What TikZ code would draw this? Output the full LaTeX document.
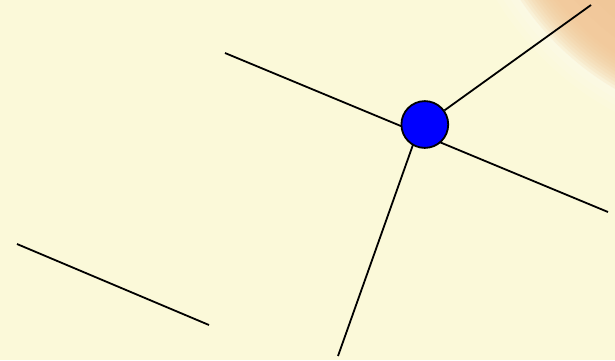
\documentclass[tikz,border=0pt]{standalone}
\definecolor{bg}{RGB}{251,249,217}
\definecolor{cornerc}{RGB}{242,196,146}
\tikzset{
  wire/.style={line width=1.8pt, black},
  hub/.style={circle, draw=black, line width=1.8pt, fill=blue, minimum size=46.8pt, inner sep=0pt}
}
\begin{document}
\begin{tikzpicture}[x=1pt,y=-1pt]
  \fill[bg] (0,0) rectangle (615,360);
  \begin{scope}
    \clip (0,0) rectangle (615,360);
    \foreach \r in {308,302,...,290} {\fill[white, fill opacity=0.1] (760,-160) circle (\r);}
    \foreach \r in {288,285,...,258} {\fill[cornerc, fill opacity=0.15] (760,-160) circle (\r);}
    \foreach \r in {245,230,...,200} {\fill[cornerc!85!brown, fill opacity=0.07] (760,-160) circle (\r);}
  \end{scope}
  \useasboundingbox (0,0) rectangle (615,360);
  % free ends
  \coordinate (a1) at (225,53);
  \coordinate (a2) at (608,212);
  \coordinate (up) at (591,5);
  \coordinate (lo) at (338,356);
  \coordinate (lin) at (420,125);
  \coordinate (c1) at (17,244);
  \coordinate (c2) at (209,325);
  \draw[wire] (a1) -- (a2);
  \draw[wire] (lin) -- (lo);
  \node[hub] (h) at (424.8,124.5) {};
  \draw[wire] (h) -- (up);
  \draw[wire] (c1) -- (c2);
\end{tikzpicture}
\end{document}
